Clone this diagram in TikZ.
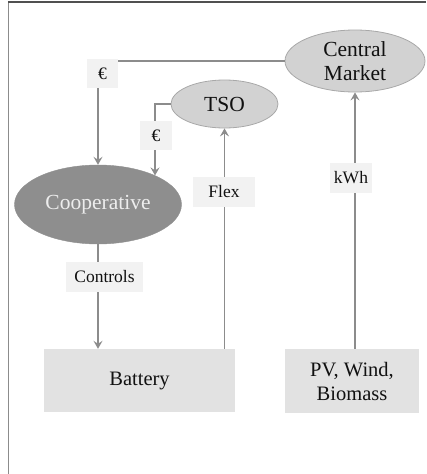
\documentclass[tikz,border=0pt]{standalone}
\usepackage{fontspec}
\setmainfont{Liberation Serif}
\usetikzlibrary{arrows.meta,shapes.geometric}
\definecolor{linegray}{HTML}{8C8C8C}
\definecolor{framedark}{HTML}{505050}
\definecolor{ellfill}{HTML}{D2D2D2}
\definecolor{ellline}{HTML}{A8A8A8}
\definecolor{coopfill}{HTML}{8E8E8E}
\definecolor{boxfill}{HTML}{E2E2E2}
\definecolor{lblfill}{HTML}{F2F2F2}
\definecolor{txt}{HTML}{111111}
\begin{document}
\begin{tikzpicture}[x=1pt,y=-1pt,
  ell/.style={ellipse, draw=ellline, line width=0.8pt, fill=ellfill, inner sep=0pt},
  coopell/.style={ellipse, draw=coopfill, fill=coopfill, inner sep=0pt},
  boxnode/.style={rectangle, fill=boxfill, inner sep=0pt, text=txt, font=\fontsize{20.5}{24}\selectfont, align=center},
  nodetext/.style={text=txt, font=\fontsize{21.5}{24.5}\selectfont, align=center, inner sep=0pt},
  lbl/.style={rectangle, fill=lblfill, inner sep=0pt, text=txt, font=\fontsize{17.5}{20}\selectfont},
  arr/.style={draw=linegray, line width=1.5pt, -{Stealth[length=8pt,width=9pt,inset=3pt]}},
  conn/.style={draw=linegray, line width=1.5pt}
]
\useasboundingbox (0,0) rectangle (427,474);
% frame
\draw[linegray, line width=1.5pt] (8.5,474) -- (8.5,2);
\draw[framedark, line width=1.5pt] (7.75,2) -- (426,2);

% nodes
\node[ell, minimum width=140pt, minimum height=62pt] (cm) at (355,61) {};
\node[nodetext] (cmtext) at (cm.center) {Central\\Market};
\node[ell, minimum width=107pt, minimum height=48pt] (tso) at (224.5,104) {};
\node[nodetext] (tsotext) at (tso.center) {TSO};
\node[coopell, minimum width=167pt, minimum height=79pt] (coop) at (98,204.5) {};
\node[nodetext, text=white!93!black] (cooptext) at (coop.center) {Cooperative};
\node[boxnode, minimum width=191pt, minimum height=63pt] (bat) at (139.5,380.5) {Battery};
\node[boxnode, minimum width=134pt, minimum height=64pt] (pv) at (352,381) {PV, Wind,\\Biomass};

% connectors
\draw[arr] (cm.west) -| (coop.north);
\draw[arr] (tso.west) -| (coop.27);
\draw[arr] (bat.north -| tso.south) -- (tso.south);
\draw[arr] (pv.north -| cm.south) -- (cm.south);
\draw[arr] (coop.south) -- (coop.south |- bat.north);

% labels
\node[lbl, minimum width=31pt, minimum height=29pt] (l1) at (102.5,73.5) {€};
\node[lbl, minimum width=32pt, minimum height=29pt] (l2) at (156,135.5) {€};
\node[lbl, minimum width=62pt, minimum height=30pt] (l3) at (224,192) {Flex};
\node[lbl, minimum width=42pt, minimum height=30pt] (l4) at (351,178) {kWh};
\node[lbl, minimum width=77pt, minimum height=30pt] (l5) at (104.5,277) {Controls};
\end{tikzpicture}
\end{document}
